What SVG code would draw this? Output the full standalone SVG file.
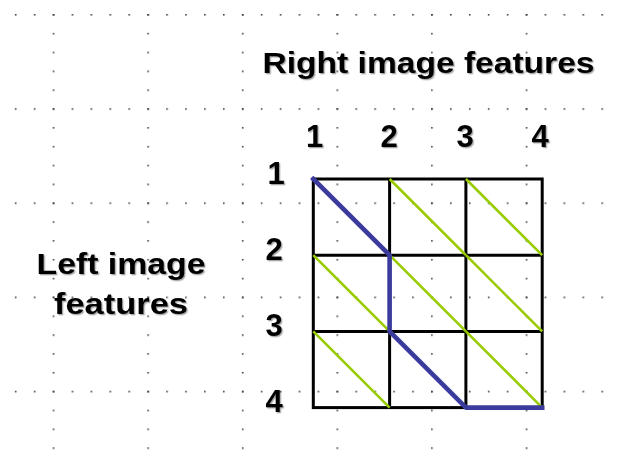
<svg xmlns="http://www.w3.org/2000/svg" width="617" height="466" viewBox="0 0 617 466">
  <defs>
    <!-- dotted guide rows: one dot every minor step along each major row -->
    <pattern id="dotRows" patternUnits="userSpaceOnUse" x="14.86" y="14" width="18.92" height="94.18">
      <rect x="0" y="0" width="1.6" height="1.6" fill="#444"/>
    </pattern>
    <!-- dotted guide columns: one dot every minor step down each major column -->
    <pattern id="dotCols" patternUnits="userSpaceOnUse" x="52.7" y="14" width="94.6" height="18.84">
      <rect x="0" y="0" width="1.6" height="1.6" fill="#444"/>
    </pattern>
    <filter id="shadow" x="-10%" y="-20%" width="120%" height="150%">
      <feDropShadow dx="1.3" dy="1.3" stdDeviation="0.6" flood-color="#000" flood-opacity="0.35"/>
    </filter>
  </defs>
  <style>
    .lbl { font-family: "Liberation Sans", Arial, sans-serif; font-weight: bold; fill: #000; filter: url(#shadow); }
    .title { font-size: 30px; }
    .num { font-size: 31px; text-anchor: middle; }
    .cell { fill: none; stroke: #000; stroke-width: 3; }
    .match { fill: none; stroke: #99cc00; stroke-width: 2.6; stroke-linecap: butt; }
    .path { fill: none; stroke: #3b3b9e; stroke-width: 4.6; stroke-linejoin: round; stroke-linecap: square; }
  </style>

  <rect width="617" height="466" fill="#fff"/>

  <!-- background dot guides -->
  <g id="guides">
    <rect x="0" y="0" width="617" height="466" fill="url(#dotRows)"/>
    <rect x="0" y="0" width="617" height="466" fill="url(#dotCols)"/>
  </g>

  <!-- axis titles -->
  <g id="title-right">
    <text class="lbl title" x="262.5" y="72.5" textLength="332" lengthAdjust="spacingAndGlyphs">Right image features</text>
  </g>
  <g id="title-left">
    <text class="lbl title" x="121" y="273.5" text-anchor="middle" textLength="169" lengthAdjust="spacingAndGlyphs">Left image</text>
    <text class="lbl title" x="121" y="314" text-anchor="middle" textLength="134" lengthAdjust="spacingAndGlyphs">features</text>
  </g>

  <!-- column indices -->
  <g id="col-labels">
    <text class="lbl num" x="314.5" y="147">1</text>
    <text class="lbl num" x="389" y="147">2</text>
    <text class="lbl num" x="465" y="147">3</text>
    <text class="lbl num" x="540" y="147">4</text>
  </g>

  <!-- row indices -->
  <g id="row-labels">
    <text class="lbl num" x="276" y="184">1</text>
    <text class="lbl num" x="274" y="260">2</text>
    <text class="lbl num" x="274" y="336">3</text>
    <text class="lbl num" x="274" y="412">4</text>
  </g>

  <!-- 3x3 cost grid -->
  <g id="grid">
    <rect class="cell" x="313.3" y="179" width="228.9" height="228.6"/>
    <line class="cell" x1="389.6" y1="179" x2="389.6" y2="407.6"/>
    <line class="cell" x1="465.9" y1="179" x2="465.9" y2="407.6"/>
    <line class="cell" x1="313.3" y1="255.2" x2="542.2" y2="255.2"/>
    <line class="cell" x1="313.3" y1="331.4" x2="542.2" y2="331.4"/>
  </g>

  <g id="connectors">
    <!-- candidate diagonal matches -->
    <g id="diagonals">
      <line class="match" x1="389.6" y1="179" x2="465.9" y2="255.2"/>
      <line class="match" x1="465.9" y1="179" x2="542.2" y2="255.2"/>
      <line class="match" x1="313.3" y1="255.2" x2="389.6" y2="331.4"/>
      <line class="match" x1="389.6" y1="255.2" x2="465.9" y2="331.4"/>
      <line class="match" x1="465.9" y1="255.2" x2="542.2" y2="331.4"/>
      <line class="match" x1="313.3" y1="331.4" x2="389.6" y2="407.6"/>
      <line class="match" x1="465.9" y1="331.4" x2="542.2" y2="407.6"/>
    </g>
    <!-- optimal path -->
    <polyline id="best-path" class="path" points="313.3,179 389.6,255.2 389.6,331.4 465.9,407.6 542.2,407.6"/>
  </g>
</svg>
